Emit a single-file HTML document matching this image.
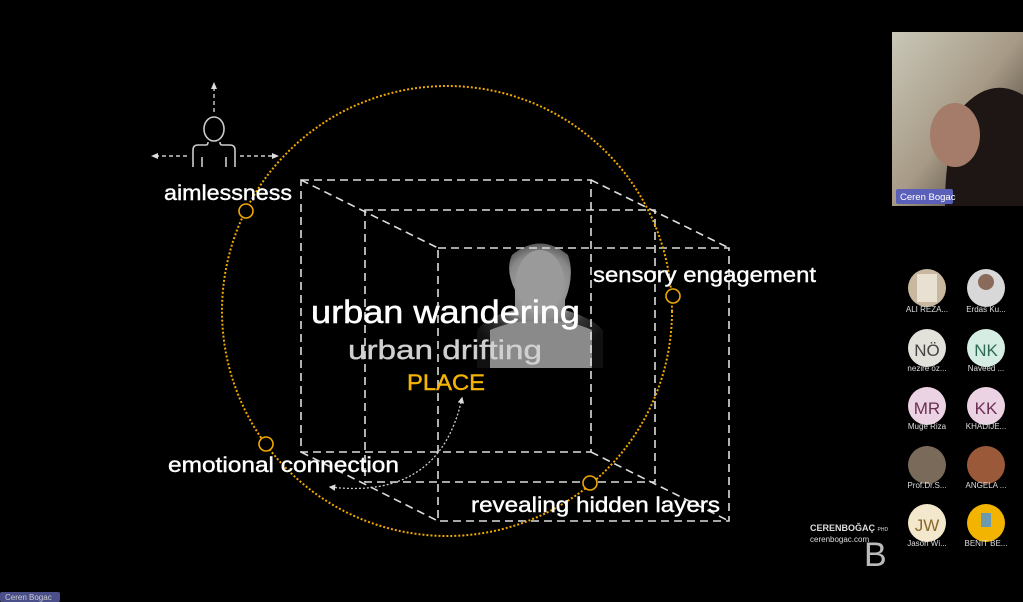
<!DOCTYPE html>
<html><head><meta charset="utf-8">
<style>
html,body{margin:0;padding:0;background:#000;width:1023px;height:602px;overflow:hidden}
svg{display:block}
text{font-family:"Liberation Sans","DejaVu Sans",sans-serif}
</style></head><body>
<svg width="1023" height="602" viewBox="0 0 1023 602" xmlns="http://www.w3.org/2000/svg">
<defs>
<radialGradient id="face" cx="50%" cy="35%" r="60%">
<stop offset="0" stop-color="#bbb"/><stop offset="0.45" stop-color="#888"/><stop offset="0.7" stop-color="#333"/><stop offset="1" stop-color="#111"/>
</radialGradient>
<linearGradient id="cam" x1="0" y1="0" x2="1" y2="1">
<stop offset="0" stop-color="#c9c7b8"/><stop offset="0.5" stop-color="#a79a86"/><stop offset="1" stop-color="#2a201c"/>
</linearGradient>
<marker id="ah" viewBox="0 0 10 10" refX="8" refY="5" markerWidth="5" markerHeight="5" orient="auto-start-reverse"><path d="M0,0L10,5L0,10z" fill="#ddd"/></marker>
</defs>

<!-- portrait -->
<rect x="477" y="240" width="126" height="128" fill="#000"/>
<path d="M477,368 L477,330 Q490,315 515,310 L515,290 Q505,270 512,255 Q540,232 568,255 Q575,275 565,300 L565,310 Q592,318 603,330 L603,368 Z" fill="url(#face)"/>
<ellipse cx="540" cy="282" rx="24" ry="32" fill="#9a9a9a"/>
<path d="M490,368 L490,330 Q520,318 540,322 Q565,318 592,330 L592,368Z" fill="#8a8a8a"/>

<!-- cubes -->
<g fill="none" stroke="#ddd" stroke-width="1.6" stroke-dasharray="8,5">
<rect x="301" y="180" width="290" height="272"/>
<rect x="365" y="210" width="290" height="272"/>
<rect x="438" y="248" width="291" height="273"/>
<line x1="301" y1="180" x2="438" y2="248"/>
<line x1="591" y1="180" x2="729" y2="248"/>
<line x1="591" y1="452" x2="729" y2="521"/>
<line x1="301" y1="452" x2="438" y2="521"/>
</g>

<!-- orange circle -->
<circle cx="447" cy="311" r="225" fill="none" stroke="#f0a800" stroke-width="2" stroke-dasharray="2,2"/>
<g fill="#000" stroke="#f0a800" stroke-width="1.6">
<circle cx="246" cy="211" r="7"/>
<circle cx="673" cy="296" r="7"/>
<circle cx="266" cy="444" r="7"/>
<circle cx="590" cy="483" r="7"/>
</g>

<!-- curved arrow -->
<path d="M462,398 Q440,500 330,487" fill="none" stroke="#ccc" stroke-width="1.3" stroke-dasharray="2,2" marker-start="url(#ah)" marker-end="url(#ah)"/>

<!-- person icon -->
<g fill="none" stroke="#ccc" stroke-width="1.6">
<ellipse cx="214" cy="129" rx="10" ry="12"/>
<path d="M193,167 L193,150 Q193,145 198,145 L206,145 Q208,145 208,142 M235,167 L235,150 Q235,145 230,145 L222,145 Q220,145 220,142"/>
<line x1="202" y1="157" x2="202" y2="167"/><line x1="226" y1="157" x2="226" y2="167"/>
<g stroke-dasharray="4,3" stroke-width="1.4">
<line x1="214" y1="112" x2="214" y2="88"/>
<line x1="187" y1="156" x2="158" y2="156"/>
<line x1="240" y1="156" x2="272" y2="156"/>
</g>
</g>
<g fill="#ddd">
<path d="M214,82 L211,89 L217,89Z"/><path d="M151,156 L158,153 L158,159Z"/><path d="M279,156 L272,153 L272,159Z"/>
</g>

<!-- labels -->
<g fill="#fff" font-size="21" stroke="#fff" stroke-width="0.4" lengthAdjust="spacingAndGlyphs">
<text x="164" y="200" textLength="128" lengthAdjust="spacingAndGlyphs">aimlessness</text>
<text x="593" y="282" textLength="223" lengthAdjust="spacingAndGlyphs">sensory engagement</text>
<text x="168" y="472" textLength="231" lengthAdjust="spacingAndGlyphs">emotional connection</text>
<text x="471" y="512" textLength="249" lengthAdjust="spacingAndGlyphs">revealing hidden layers</text>
</g>
<text x="311" y="323" fill="#fff" stroke="#fff" stroke-width="0.5" font-size="32" textLength="269" lengthAdjust="spacingAndGlyphs">urban wandering</text>
<text x="348" y="359" fill="#d0d0d0" stroke="#d0d0d0" stroke-width="0.4" font-size="27" textLength="194" lengthAdjust="spacingAndGlyphs">urban drifting</text>
<text x="407" y="390" fill="#f5b400" stroke="#f5b400" stroke-width="0.4" font-size="22" textLength="78" lengthAdjust="spacingAndGlyphs">PLACE</text>

<!-- webcam -->
<rect x="892" y="32" width="131" height="174" fill="url(#cam)"/>
<path d="M945,206 Q945,150 960,110 Q990,75 1023,95 L1023,206Z" fill="#1e1614"/>
<ellipse cx="955" cy="135" rx="25" ry="32" fill="#a57c6a"/>
<rect x="896" y="189" width="57" height="15" rx="2" fill="#5a5fb8"/>
<text x="900" y="200" fill="#fff" font-size="9.5">Ceren Bogac</text>

<!-- participants -->
<g font-size="8" fill="#ddd" text-anchor="middle">
<circle cx="927" cy="288" r="19" fill="#c8b8a0"/><rect x="917" y="274" width="20" height="28" fill="#e8e0d0"/>
<circle cx="986" cy="288" r="19" fill="#d8d8d8"/><circle cx="986" cy="282" r="8" fill="#8a6a5a"/>
<text x="927" y="312">ALI REZA...</text><text x="986" y="312">Erdas Ku...</text>
<circle cx="927" cy="348" r="19" fill="#e2e2da"/><circle cx="986" cy="348" r="19" fill="#d6ede3"/>
<text x="927" y="356" font-size="17" fill="#444">NÖ</text><text x="986" y="356" font-size="17" fill="#2d6b55">NK</text>
<text x="927" y="371">nezire öz...</text><text x="986" y="371">Naveed ...</text>
<circle cx="927" cy="406" r="19" fill="#ecd3e3"/><circle cx="986" cy="406" r="19" fill="#ecd3e3"/>
<text x="927" y="414" font-size="17" fill="#6b2e52">MR</text><text x="986" y="414" font-size="17" fill="#6b2e52">KK</text>
<text x="927" y="429">Muge Riza</text><text x="986" y="429">KHADIJE...</text>
<circle cx="927" cy="465" r="19" fill="#7a6a5a"/><circle cx="986" cy="465" r="19" fill="#9a5a3a"/>
<text x="927" y="488">Prof.Dr.S...</text><text x="986" y="488">ANGELA ...</text>
<circle cx="927" cy="523" r="19" fill="#f3e8cc"/><circle cx="986" cy="523" r="19" fill="#f2b400"/>
<text x="927" y="531" font-size="17" fill="#8a6a2a">JW</text><rect x="981" y="513" width="10" height="14" fill="#6a9ab0"/>
<text x="927" y="546">Jason Wi...</text><text x="986" y="546">BENIT BE...</text>
</g>

<!-- logo -->
<text x="810" y="531" fill="#ddd" font-size="9" font-weight="bold">CERENBOĞAÇ <tspan font-size="5" font-weight="normal">PHD</tspan></text>
<text x="810" y="542" fill="#ddd" font-size="8">cerenbogac.com</text>
<text x="864" y="566" fill="#bbb" font-size="34" font-family="Liberation Serif,serif">B</text>

<!-- bottom label -->
<rect x="0" y="592" width="60" height="10" rx="2" fill="#4a4f8a"/>
<text x="5" y="600" fill="#ccc" font-size="8">Ceren Bogac</text>
</svg>
</body></html>
